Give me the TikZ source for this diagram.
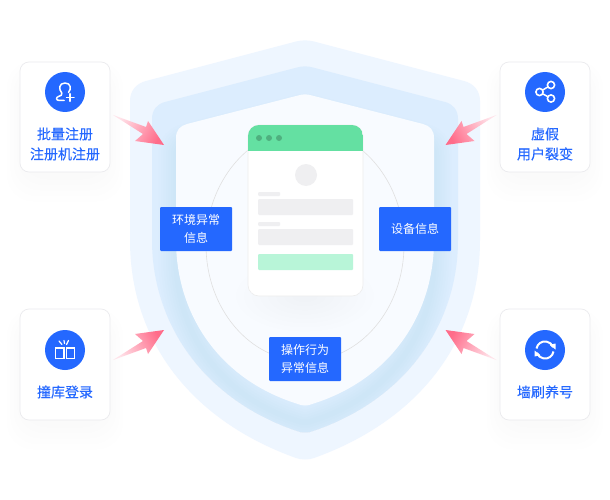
\documentclass[tikz,border=0pt]{standalone}
\usepackage{fontspec}
\setmainfont{Noto Sans CJK SC}
\newfontfamily\cardfont[FakeBold=0.25]{Noto Sans CJK SC}
\definecolor{brand}{HTML}{2468FF}
\definecolor{shieldA}{HTML}{EEF6FF}
\definecolor{shieldB}{HTML}{DCEDFE}
\definecolor{shieldC}{HTML}{F8FBFF}
\definecolor{shieldGlow}{HTML}{A9C9F5}
\definecolor{headGreen}{HTML}{64E0A2}
\definecolor{dotGreen}{HTML}{4FB07F}
\definecolor{paleGreen}{HTML}{B8F5D8}
\definecolor{barGrey}{HTML}{EFEFF1}
\definecolor{cardEdge}{HTML}{EBEBEE}
\definecolor{arrowHead}{HTML}{FF6C8A}
\definecolor{arrowTail}{HTML}{FFE2E9}
\tikzset{
  cardbox/.style={draw=cardEdge,line width=.7pt,fill=white,rounded corners=9pt,minimum width=90pt,inner sep=0pt},
  iconball/.style={circle,fill=brand,minimum size=40pt,inner sep=0pt},
  cardlabel/.style={text=brand,font=\cardfont\fontsize{14}{20}\selectfont,align=center,inner sep=0pt},
  infobox/.style={fill=brand,rounded corners=1pt,minimum width=72pt,minimum height=44pt,inner sep=0pt,text=white,font=\fontsize{12}{18}\selectfont,align=center},
  iconline/.style={draw=white,line width=1.5pt,line cap=round,line join=round},
  attack/.style={top color=arrowTail,bottom color=arrowHead,shading angle=#1}
}
\newcommand{\softshadow}[4]{%
  \foreach \i in {1,...,5}{
    \fill[black,opacity=.004,rounded corners=26pt] (#1+4-\i*3.4,#2+12-\i*2.6) rectangle (#3-4+\i*3.4,#4+2+\i*5.5);
  }}
\newcommand{\outerpath}{(296,41.5) -- (146,81) .. controls (136,83.5) and (130,91) .. (130,101) -- (130,240) .. controls (130,340) and (190,420) .. (296,458) .. controls (301,460) and (309,460) .. (314,458) .. controls (420,420) and (480,340) .. (480,240) -- (480,101) .. controls (480,91) and (474,83.5) .. (464,81) -- (314,41.5) .. controls (308,40) and (302,40) .. (296,41.5) -- cycle}
\newcommand{\middlepath}{(297,67.5) -- (165,102) .. controls (157,104) and (152,110) .. (152,119) -- (152,240) .. controls (152,325) and (205,400) .. (297,431) .. controls (301,433) and (309,433) .. (313,431) .. controls (405,400) and (458,325) .. (458,240) -- (458,119) .. controls (458,110) and (453,104) .. (445,102) -- (313,67.5) .. controls (308,66) and (302,66) .. (297,67.5) -- cycle}
\newcommand{\innerpath}{(298,95.5) -- (187,124) .. controls (180,126) and (176,130) .. (176,138) -- (176,240) .. controls (176,315) and (220,380) .. (298,404) .. controls (302,406) and (308,406) .. (312,404) .. controls (390,380) and (434,315) .. (434,240) -- (434,138) .. controls (434,130) and (430,126) .. (423,124) -- (312,95.5) .. controls (307,94) and (303,94) .. (298,95.5) -- cycle}
\begin{document}
\begin{tikzpicture}[x=1pt,y=-1pt]
\useasboundingbox (0,0) rectangle (610,500);
\fill[white] (0,0) rectangle (610,500);
% shields
\fill[shieldA] \outerpath;
\fill[shieldB] \middlepath;
\begin{scope}
  \clip \middlepath;
  \foreach \w in {5,10,...,35}{
    \draw[shieldGlow,opacity=.026,line width=\w pt,yshift=-17pt] \innerpath;
  }
\end{scope}
\fill[shieldC] \innerpath;
% thin ellipse
\draw[draw=black!12,line width=.6pt] (305,245) ellipse [x radius=99,y radius=116];
% window
\foreach \i in {1,...,8}{
  \fill[black,opacity=.005] (305,296) ellipse [x radius=5+\i*8,y radius=2+\i*4.2];
}
\node[draw=black!7,line width=.6pt,fill=white,rounded corners=11pt,minimum width=115pt,minimum height=171pt,inner sep=0pt] (win) at (305.5,210.5) {};
\begin{scope}
  \clip[rounded corners=11pt] (248,125) rectangle (363,296);
  \fill[headGreen] (248,125) rectangle (363,151);
\end{scope}
\foreach \x in {259,269,279}{ \fill[dotGreen] (\x,138) circle [radius=3]; }
\fill[barGrey] (306,175) circle [radius=11];
\fill[barGrey,rounded corners=1pt] (258,192) rectangle (280,196);
\fill[barGrey,rounded corners=1pt] (258,199) rectangle (353,215);
\fill[barGrey,rounded corners=1pt] (258,222) rectangle (280,226);
\fill[barGrey,rounded corners=1pt] (258,229) rectangle (353,245);
\fill[paleGreen,rounded corners=1pt] (258,254) rectangle (353,270);
% info boxes
\node[infobox] (envinfo) at (196,229) {环境异常\\信息};
\node[infobox] (devinfo) at (415,229) {设备信息};
\node[infobox] (opinfo) at (305,359) {操作行为\\异常信息};
% card shadows
\softshadow{20}{62}{110}{172}
\softshadow{500}{62}{590}{172}
\softshadow{20}{310}{110}{420}
\softshadow{500}{310}{590}{420}
% cards
\node[cardbox,minimum height=110pt] (cardA) at (65,117) {};
\node[cardbox,minimum height=110pt] (cardB) at (545,117) {};
\node[cardbox,minimum height=111pt] (cardC) at (65,364.5) {};
\node[cardbox,minimum height=111pt] (cardD) at (545,364.5) {};
\node[iconball] (ballA) at (65,92) {};
\node[iconball] (ballB) at (545,92) {};
\node[iconball] (ballC) at (65,350) {};
\node[iconball] (ballD) at (545,350) {};
\node[cardlabel] (labelA) at (65,144) {批量注册\\注册机注册};
\node[cardlabel] (labelB) at (545,144) {虚假\\用户裂变};
\node[cardlabel] (labelC) at (65,392) {撞库登录};
\node[cardlabel] (labelD) at (545,392) {墙刷养号};
% icon: person plus
\draw[iconline] (64,100.5) -- (59.5,100.5) .. controls (56,100.5) and (55.5,97.5) .. (58.5,96.5) .. controls (61,95.7) and (62.5,95) .. (61.8,93) .. controls (58.5,89.5) and (58.8,83) .. (65,83) .. controls (71,83) and (71.5,89) .. (68.5,92.5);
\draw[iconline] (66.5,97.5) -- (74,97.5) (70.2,93.7) -- (70.2,101.3);
% icon: share
\draw[iconline] (539.5,92) -- (551,85) (539.5,92) -- (551,98.5);
\foreach \p in {(539.5,92),(551,85),(551,98.5)}{
  \draw[white,line width=1.6pt,fill=brand] \p circle [radius=3.6];
}
% icon: gift
\draw[draw=white,line width=1.4pt] (55.5,348) rectangle (64,358.5);
\draw[draw=white,line width=1.4pt] (66.5,348) rectangle (74.5,358.5);
\draw[iconline,line width=1.2pt] (59,341) -- (62,344.5) (64,340.5) -- (64.5,343.5) (68.5,340.5) -- (66.5,344.5);
% icon: refresh
\draw[draw=white,line width=2pt] (536.5,348.5) arc [start angle=-170,end angle=-20,radius=8.6];
\fill[white] (549.5,344.8) -- (555.5,343.5) -- (555.5,349.5) -- cycle;
\draw[draw=white,line width=2pt] (553.5,351.5) arc [start angle=10,end angle=160,radius=8.6];
\fill[white] (540.5,355.2) -- (534.5,356.5) -- (534.5,350.5) -- cycle;
% pink arrows
\path[attack=59.5] (113,115) -- (146,127) -- (148,121) -- (164,145) -- (135,141) -- (143,134) -- cycle;
\path[attack=-59.5] (496.5,115) -- (463.5,127) -- (461.5,121) -- (445.5,145) -- (474.5,141) -- (466.5,134) -- cycle;
\path[attack=120.5] (113,360) -- (146,348) -- (148,354) -- (164,330) -- (135,334) -- (143,341) -- cycle;
\path[attack=-120.5] (496.5,360) -- (463.5,348) -- (461.5,354) -- (445.5,330) -- (474.5,334) -- (466.5,341) -- cycle;
\end{tikzpicture}
\end{document}
